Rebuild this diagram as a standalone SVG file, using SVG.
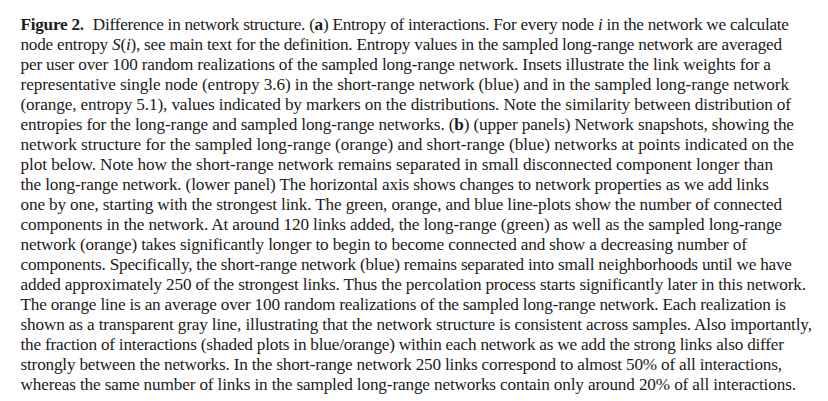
<svg xmlns="http://www.w3.org/2000/svg" width="828" height="401" viewBox="0 0 828 401">
<style>
.t{font-family:"Liberation Serif","Times New Roman",serif;font-size:17.2px;fill:#1c1a1a;}
.b{font-weight:bold;}
.i{font-style:italic;}
</style>
<rect width="828" height="401" fill="#ffffff"/>
<g id="caption">
<text class="t" x="20.5" y="29.5" textLength="768.5" lengthAdjust="spacing"><tspan class="b">Figure 2.</tspan><tspan dx="5"> Difference in network structure. (</tspan><tspan class="b">a</tspan>) Entropy of interactions. For every node <tspan class="i">i</tspan> in the network we calculate</text>
<text class="t" x="20.5" y="49.55" textLength="761.5" lengthAdjust="spacing">node entropy <tspan class="i">S</tspan>(<tspan class="i">i</tspan>), see main text for the definition. Entropy values in the sampled long-range network are averaged</text>
<text class="t" x="20.5" y="69.6" textLength="750.5" lengthAdjust="spacing">per user over 100 random realizations of the sampled long-range network. Insets illustrate the link weights for a</text>
<text class="t" x="20.5" y="89.65" textLength="768.5" lengthAdjust="spacing">representative single node (entropy 3.6) in the short-range network (blue) and in the sampled long-range network</text>
<text class="t" x="20.5" y="109.7" textLength="770.5" lengthAdjust="spacing">(orange, entropy 5.1), values indicated by markers on the distributions. Note the similarity between distribution of</text>
<text class="t" x="20.5" y="129.75" textLength="773.5" lengthAdjust="spacing">entropies for the long-range and sampled long-range networks. (<tspan class="b">b</tspan>) (upper panels) Network snapshots, showing the</text>
<text class="t" x="20.5" y="149.8" textLength="773.5" lengthAdjust="spacing">network structure for the sampled long-range (orange) and short-range (blue) networks at points indicated on the</text>
<text class="t" x="20.5" y="169.85" textLength="752.5" lengthAdjust="spacing">plot below. Note how the short-range network remains separated in small disconnected component longer than</text>
<text class="t" x="20.5" y="189.9" textLength="748.5" lengthAdjust="spacing">the long-range network. (lower panel) The horizontal axis shows changes to network properties as we add links</text>
<text class="t" x="20.5" y="209.95" textLength="761.5" lengthAdjust="spacing">one by one, starting with the strongest link. The green, orange, and blue line-plots show the number of connected</text>
<text class="t" x="20.5" y="230" textLength="761.5" lengthAdjust="spacing">components in the network. At around 120 links added, the long-range (green) as well as the sampled long-range</text>
<text class="t" x="20.5" y="250.05" textLength="726.5" lengthAdjust="spacing">network (orange) takes significantly longer to begin to become connected and show a decreasing number of</text>
<text class="t" x="20.5" y="270.1" textLength="771.5" lengthAdjust="spacing">components. Specifically, the short-range network (blue) remains separated into small neighborhoods until we have</text>
<text class="t" x="20.5" y="290.15" textLength="785.5" lengthAdjust="spacing">added approximately 250 of the strongest links. Thus the percolation process starts significantly later in this network.</text>
<text class="t" x="20.5" y="310.2" textLength="765.5" lengthAdjust="spacing">The orange line is an average over 100 random realizations of the sampled long-range network. Each realization is</text>
<text class="t" x="20.5" y="330.25" textLength="791.5" lengthAdjust="spacing">shown as a transparent gray line, illustrating that the network structure is consistent across samples. Also importantly,</text>
<text class="t" x="20.5" y="350.3" textLength="763.5" lengthAdjust="spacing">the fraction of interactions (shaded plots in blue/orange) within each network as we add the strong links also differ</text>
<text class="t" x="20.5" y="370.35" textLength="761.5" lengthAdjust="spacing">strongly between the networks. In the short-range network 250 links correspond to almost 50% of all interactions,</text>
<text class="t" x="20.5" y="390.4" textLength="775.5" lengthAdjust="spacing">whereas the same number of links in the sampled long-range networks contain only around 20% of all interactions.</text>
</g>
</svg>
